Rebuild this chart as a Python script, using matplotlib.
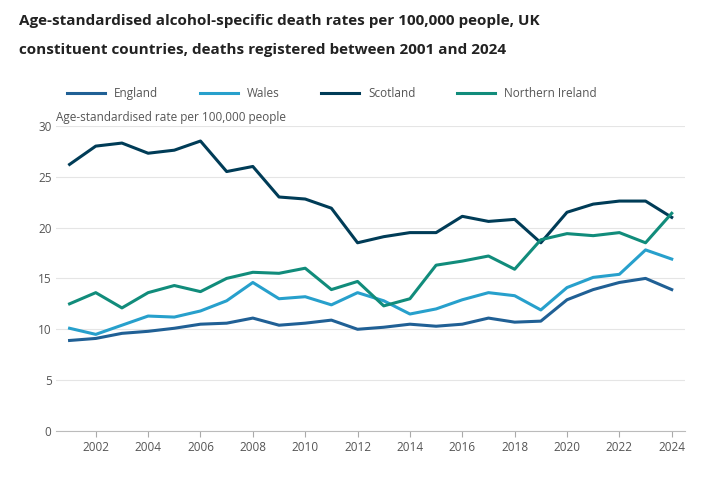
import matplotlib
matplotlib.use("Agg")
import matplotlib.pyplot as plt

years = list(range(2001, 2025))
england = [8.9,9.1,9.6,9.8,10.1,10.5,10.6,11.1,10.4,10.6,10.9,10.0,10.2,10.5,10.3,10.5,11.1,10.7,10.8,12.9,13.9,14.6,15.0,13.9]
wales = [10.1,9.5,10.4,11.3,11.2,11.8,12.8,14.6,13.0,13.2,12.4,13.6,12.8,11.5,12.0,12.9,13.6,13.3,11.9,14.1,15.1,15.4,17.8,16.9]
scotland = [26.2,28.0,28.3,27.3,27.6,28.5,25.5,26.0,23.0,22.8,21.9,18.5,19.1,19.5,19.5,21.1,20.6,20.8,18.5,21.5,22.3,22.6,22.6,21.0]
ni = [12.5,13.6,12.1,13.6,14.3,13.7,15.0,15.6,15.5,16.0,13.9,14.7,12.3,13.0,16.3,16.7,17.2,15.9,18.8,19.4,19.2,19.5,18.5,21.4]
series = [("England", england, "#206095"), ("Wales", wales, "#27a0cc"),
          ("Scotland", scotland, "#003c57"), ("Northern Ireland", ni, "#118c7b")]
xticks = list(range(2002, 2025, 2))
yticks = [0, 5, 10, 15, 20, 25, 30]

plt.rcParams['font.family'] = ['Open Sans', 'DejaVu Sans']
fig = plt.figure(figsize=(7.06, 4.80), dpi=100)
ax = fig.add_axes([0.08, 0.102, 0.89, 0.636])
for name, vals, c in series:
    ax.plot(years, vals, color=c, lw=2.2, label=name)
ax.set_ylim(0, 30)
ax.set_xlim(2000.5, 2024.5)
ax.set_yticks(yticks)
ax.set_xticks(xticks)
ax.tick_params(axis='y', length=0, labelsize=8.5, colors='#555555')
ax.tick_params(axis='x', length=4, labelsize=8.5, colors='#555555', color='#aaaaaa')
ax.grid(axis='y', color='#e5e5e5', lw=0.8)
for s in ['top', 'right', 'left']:
    ax.spines[s].set_visible(False)
ax.spines['bottom'].set_color('#bbbbbb')
ax.set_axisbelow(True)
ax.text(0.0, 1.005, "Age-standardised rate per 100,000 people", transform=ax.transAxes,
        fontsize=8.5, color='#555555', va='bottom', ha='left')
fig.text(0.027, 0.97, "Age-standardised alcohol-specific death rates per 100,000 people, UK\nconstituent countries, deaths registered between 2001 and 2024",
         fontsize=11, fontweight='bold', color='#222222', va='top', ha='left', linespacing=2.35)
fig.legend(loc='upper left', bbox_to_anchor=(0.08, 0.84), ncol=4, frameon=False,
           fontsize=8.5, handlelength=3.2, columnspacing=3.5, labelcolor='#555555')
fig.savefig("out.png", dpi=100)
